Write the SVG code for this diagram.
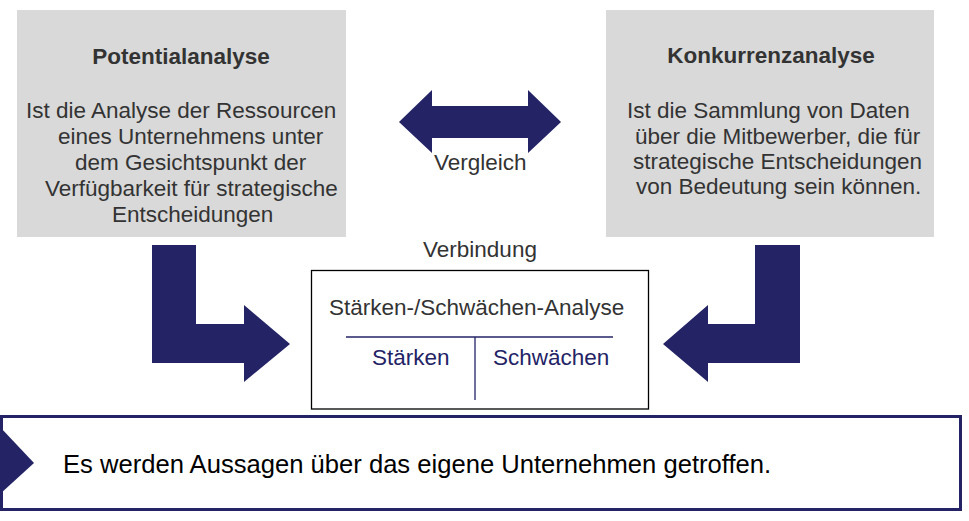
<svg xmlns="http://www.w3.org/2000/svg" width="969" height="521" viewBox="0 0 969 521">
<style>
text{font-family:"Liberation Sans",Arial,sans-serif;font-size:22.5px;fill:#333333}
.b{font-weight:bold}
.nv{fill:#232366}
.gray{fill:#D9D9D9}
.arrow{fill:#232366}
</style>
<rect x="0" y="0" width="969" height="521" fill="#ffffff"/>
<g id="potentialanalyse">
<rect class="gray" x="17" y="10" width="329" height="227"/>
<text class="b" x="181" y="64" text-anchor="middle">Potentialanalyse</text>
<text x="26" y="118">Ist die Analyse der Ressourcen</text>
<text x="58" y="144">eines Unternehmens unter</text>
<text x="75" y="170">dem Gesichtspunkt der</text>
<text x="45" y="196">Verfügbarkeit für strategische</text>
<text x="112" y="222">Entscheidungen</text>
</g>
<g id="konkurrenzanalyse">
<rect class="gray" x="606" y="10" width="328" height="227"/>
<text class="b" x="771" y="63" text-anchor="middle">Konkurrenzanalyse</text>
<text x="627" y="118">Ist die Sammlung von Daten</text>
<text x="635" y="144">über die Mitbewerber, die für</text>
<text x="633" y="169">strategische Entscheidungen</text>
<text x="636" y="194">von Bedeutung sein können.</text>
</g>
<g id="swot">
<text x="480" y="257" text-anchor="middle">Verbindung</text>
<rect x="311.5" y="270.5" width="337" height="138.5" fill="#ffffff" stroke="#000000" stroke-width="1.3"/>
<text x="329" y="315">Stärken-/Schwächen-Analyse</text>
<line x1="346" y1="337" x2="613" y2="337" stroke="#232366" stroke-width="1.3"/>
<line x1="475" y1="337" x2="475" y2="400" stroke="#232366" stroke-width="1.3"/>
<text class="nv" x="372" y="365">Stärken</text>
<text class="nv" x="493" y="365">Schwächen</text>
</g>
<g id="fazit">
<rect x="1.5" y="416.5" width="959" height="93" fill="#ffffff" stroke="#232366" stroke-width="3"/>
<polygon class="arrow" points="0,427 34,463 0,494"/>
<text x="63" y="473" style="font-size:25.6px;fill:#000000">Es werden Aussagen über das eigene Unternehmen getroffen.</text>
</g>
<g id="connectors">
<polygon id="vergleich-arrow" class="arrow" points="399,122 432,90 432,106 528,106 528,90 561,122 528,153 528,138 432,138 432,153"/>
<text x="434" y="170">Vergleich</text>
<polygon id="left-arrow" class="arrow" points="152,245 196,245 196,324 244,324 244,305 290,344 244,382 244,363 152,363"/>
<polygon id="right-arrow" class="arrow" points="800,245 755,245 755,324 708,324 708,305 663,344 708,382 708,363 800,363"/>
</g>
</svg>
